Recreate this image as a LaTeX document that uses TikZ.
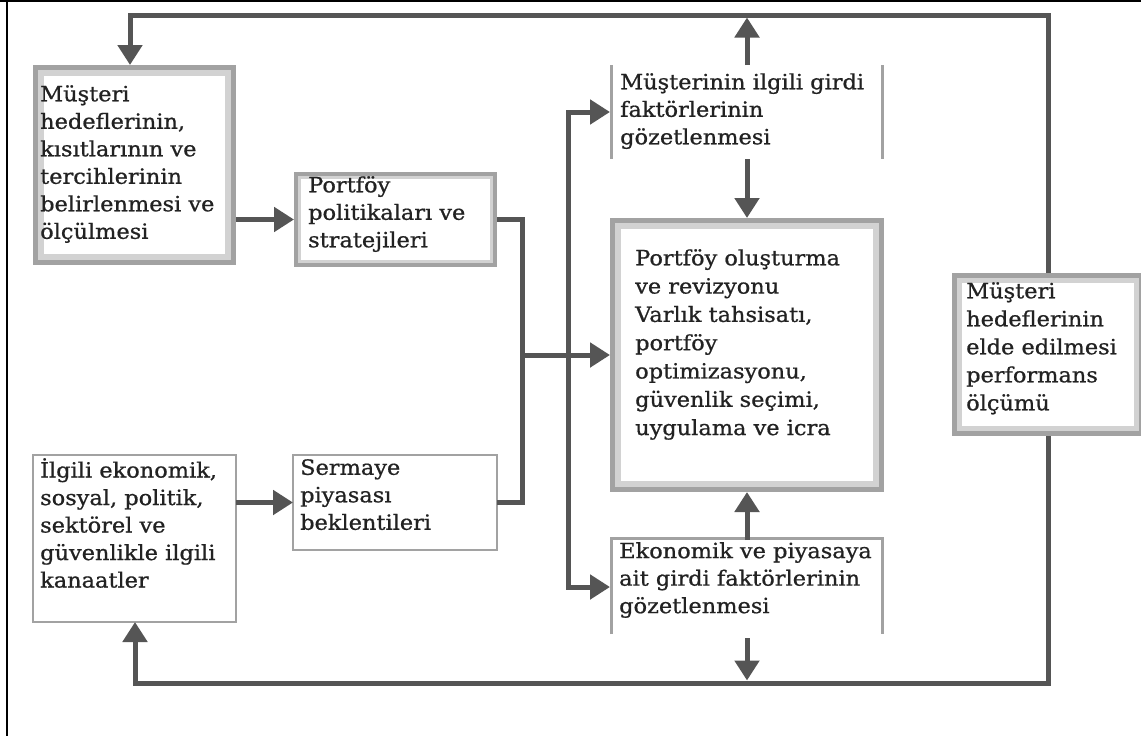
\documentclass[tikz,border=0pt]{standalone}
\usepackage{fontspec}
\setmainfont{DejaVu Serif}[FakeStretch=1.07, FakeBold=0.8]
\usetikzlibrary{arrows.meta}
\definecolor{flowgray}{HTML}{555555}
\definecolor{rimdark}{HTML}{A2A2A2}
\definecolor{rimlight}{HTML}{D2D2D2}
\definecolor{ink}{HTML}{222222}
% double rim: dark outer band, light inner band (node, dark width, light width)
\newcommand\drawrim[3]{%
  \draw[rimlight, line width=#3pt]
    ([shift={(#2+#3/2,#2+#3/2)}]#1.north west) rectangle ([shift={(-#2-#3/2,-#2-#3/2)}]#1.south east);
  \draw[rimdark, line width=#2pt]
    ([shift={(#2/2,#2/2)}]#1.north west) rectangle ([shift={(-#2/2,-#2/2)}]#1.south east);}
\begin{document}
\begin{tikzpicture}[x=1pt,y=-1pt,
  flow/.style={draw=flowgray, line width=5pt},
  arr/.style={flow, -{Triangle[length=20pt,width=24pt]}},
  panel/.style={rectangle, inner sep=0pt, outer sep=0pt, anchor=north west, fill=white},
  thinpanel/.style={panel, draw=rimdark, line width=2.5pt},
  side/.style={draw=rimdark, line width=3pt},
  txt/.style={anchor=north west, inner sep=0pt, align=left, text=ink,
    font=\fontsize{21}{27.5}\selectfont, execute at begin node=\rule{0pt}{21pt}},
]
\useasboundingbox (0,0) rectangle (1141,736);
\fill[white] (0,0) rectangle (1141,736);
% outer frame lines
\draw[black, line width=1.5pt] (0,1) -- (1141,1);
\draw[black, line width=2pt] (6.8,0) -- (6.8,736);

% boxes
\node[panel, minimum width=203, minimum height=200] (goals) at (33,65) {};
\node[panel, minimum width=203, minimum height=95] (policy) at (294,172) {};
\node[thinpanel, minimum width=203, minimum height=167] (views) at (33,455) {};
\node[thinpanel, minimum width=204, minimum height=95] (market) at (293,455) {};
\node[panel, minimum width=274, minimum height=94] (clientin) at (610,65) {};
\node[panel, minimum width=274, minimum height=274] (build) at (610,218) {};
\node[panel, minimum width=274, minimum height=94] (econin) at (610,540) {};
\node[panel, minimum width=192, minimum height=163] (perf) at (952,273) {};

\drawrim{goals}{5}{6}
\drawrim{policy}{4}{3}
\drawrim{build}{5}{6}
\drawrim{perf}{5}{5}

% open frames of the two monitoring boxes
\draw[side] ([xshift=1.5]clientin.north west) -- ([xshift=1.5]clientin.south west);
\draw[side] ([xshift=-1.5]clientin.north east) -- ([xshift=-1.5]clientin.south east);
\draw[side] ([xshift=1.5]econin.south west) -- ([xshift=1.5,yshift=1.5]econin.north west)
  -- ([xshift=-1.5,yshift=1.5]econin.north east) -- ([xshift=-1.5]econin.south east);

% texts
\node[txt] (t-goals) at (40,85) {Müşteri\\hedeflerinin,\\kısıtlarının ve\\tercihlerinin\\belirlenmesi ve\\ölçülmesi};
\node[txt] (t-policy) at (308,176) {Portföy\\politikaları ve\\stratejileri};
\node[txt] (t-views) at (40,458) {İlgili ekonomik,\\sosyal, politik,\\sektörel ve\\güvenlikle ilgili\\kanaatler};
\node[txt] (t-market) at (300,459) {Sermaye\\piyasası\\beklentileri};
\node[txt] (t-clientin) at (620,73) {Müşterinin ilgili girdi\\faktörlerinin\\gözetlenmesi};
\node[txt, font=\fontsize{21}{28.3}\selectfont] (t-build) at (635,249) {Portföy oluşturma\\ve revizyonu\\Varlık tahsisatı,\\portföy\\optimizasyonu,\\güvenlik seçimi,\\uygulama ve icra};
\node[txt] (t-econin) at (619,542) {Ekonomik ve piyasaya\\ait girdi faktörlerinin\\gözetlenmesi};
\node[txt, font=\fontsize{21}{28}\selectfont] (t-perf) at (966,282) {Müşteri\\hedeflerinin\\elde edilmesi\\performans\\ölçümü};

% routing points
\coordinate (tl) at (130,15);
\coordinate (tr) at (1048,15);
\coordinate (bl) at (135,683);
\coordinate (br) at (1048,683);
\coordinate (join) at (522,355);
\coordinate (bustop) at (568,112);
\coordinate (busbot) at (568,587);

% feedback loops
\draw[arr] (perf.north) -- (tr) -- (tl) -- (tl |- goals.north);
\draw[arr] (perf.south) -- (br) -- (bl) -- (bl |- views.south);

% flows
\draw[arr] (policy.west -| goals.east) -- (policy.west);
\draw[arr] (market.west -| views.east) -- (market.west);
\draw[flow] (policy.east) -| (join);
\draw[flow] (market.east) -| (join);
\draw[arr] (join) -- (join -| build.west);
\draw[arr] (busbot) -- (bustop) -- (clientin.west);
\draw[arr] (bustop) -- (busbot) -- (econin.west);
\draw[arr, shorten >=2.5pt] (clientin.north) -- (clientin.north |- tr);
\draw[arr] (clientin.south) -- (build.north);
\draw[arr] (econin.north) -- (build.south);
\draw[arr, shorten <=4pt, shorten >=2.5pt] (econin.south) -- (econin.south |- br);
\end{tikzpicture}
\end{document}
